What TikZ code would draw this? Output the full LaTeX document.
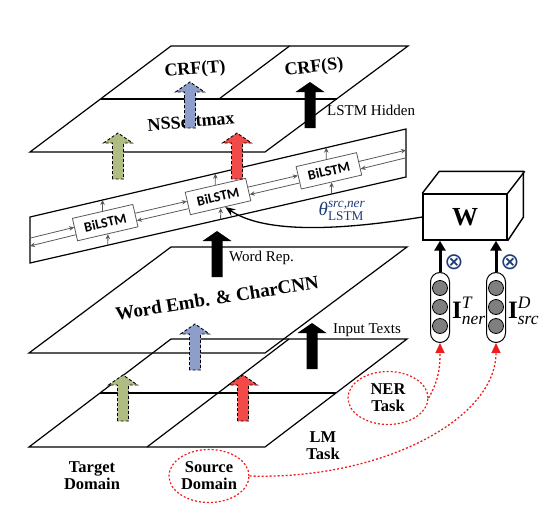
\documentclass[tikz,border=0pt]{standalone}
\usepackage{amsmath}
\usepackage{fontspec}
\setmainfont{Liberation Serif}
\newfontfamily\cellfont{Carlito}
\newfontfamily\glyphfont{DejaVu Sans}
\usetikzlibrary{arrows.meta, positioning, calc, shapes.geometric}
\definecolor{Olive}{HTML}{AFBD82}
\definecolor{Periwinkle}{HTML}{8E9ECB}
\definecolor{Coral}{HTML}{F24A48}
\definecolor{Navy}{HTML}{1F3C78}
\definecolor{DotRed}{HTML}{EE1C1C}
\definecolor{Grid}{HTML}{595959}
\definecolor{Ball}{HTML}{7F7F7F}

\begin{document}
\begin{tikzpicture}[
    x=1pt, y=-1pt,
    layer/.style={draw, line width=1.2pt, line join=miter},
    title/.style={font=\fontsize{18}{20}\selectfont\bfseries, inner sep=0pt},
    note/.style={font=\fontsize{15}{17}\selectfont, inner sep=0pt, anchor=west},
    caption/.style={font=\fontsize{16.5}{17}\selectfont\bfseries, align=center, inner sep=0pt},
    cell/.style={draw=Grid, fill=white, line width=0.8pt, minimum width=62pt, minimum height=23pt,
                 inner sep=0pt, rotate=13, font=\cellfont\fontsize{14}{14}\selectfont\bfseries},
    gridarr/.style={draw=Grid, line width=0.8pt, -{Stealth[length=5pt, width=4.5pt]}},
    shared/.style={draw, dash pattern=on 3pt off 2pt, line width=0.9pt},
    solidup/.style={fill=black},
    wface/.style={draw, line width=1.4pt, minimum width=84pt, minimum height=46pt,
                  font=\fontsize{26}{26}\selectfont\bfseries},
    boxline/.style={line width=1.4pt, line join=miter},
    capsule/.style={draw, line width=1pt, rounded corners=9.5pt, minimum width=19pt,
                    minimum height=70pt, inner sep=0pt},
    ball/.style={circle, draw, fill=Ball, line width=0.8pt, minimum size=15pt, inner sep=0pt},
    feed/.style={line width=3pt, -{Triangle[length=10pt, width=11pt]}},
    gate/.style={text=Navy, inner sep=0pt, font=\glyphfont\fontsize{23}{23}\selectfont},
    ilabel/.style={inner sep=0pt, anchor=base west, font=\fontsize{25}{25}\selectfont},
    task/.style={ellipse, draw=DotRed, dash pattern=on 2pt off 2pt, line width=1.2pt,
                 minimum width=80pt, minimum height=53pt, inner sep=0pt, align=center,
                 font=\fontsize{16.5}{17}\selectfont\bfseries},
    cue/.style={draw=DotRed, dash pattern=on 2pt off 2pt, line width=1.3pt,
                -{Triangle[length=10pt, width=9pt]}},
    tie/.style={line width=1.3pt, -{Stealth[length=10pt, width=8pt]}},
    blockarr/.pic={\path[pic actions] (-5.5,0) -- (-5.5,-36) -- (-14.5,-36) -- (0,-46)
                   -- (14.5,-36) -- (5.5,-36) -- (5.5,0) -- cycle;}
  ]
  \useasboundingbox (0,0) rectangle (544,509);

  % output layer: CRF(T) / CRF(S) over NSSoftmax
  \coordinate (tBL) at (30,152);
  \coordinate (tBR) at (265,152);
  \coordinate (tTR) at (408,46);
  \coordinate (tTL) at (171,46);
  \draw[layer] (tBL) -- (tBR) -- (tTR) -- (tTL) -- cycle;
  \draw[layer] ($(tBL)!0.5!(tTL)$) -- ($(tBR)!0.5!(tTR)$);
  \draw[layer] ($(tTL)!0.5!(tTR)$) -- ($(tBL)!0.5!(tTR)$);
  \node[title, rotate=5] (crft) at (195,70) {CRF(T)};
  \node[title, rotate=7] (crfs) at (314,68) {CRF(S)};
  \node[title, rotate=5] (nss) at (191,121) {NSSoftmax};

  % BiLSTM band
  \coordinate (bTL) at (30,217);
  \coordinate (bTR) at (406,129);
  \coordinate (bBR) at (406,177);
  \coordinate (bBL) at (30,263);
  \coordinate (bML) at (30,240);
  \coordinate (bMR) at (406,153);
  \draw[layer] (bTL) -- (bTR) -- (bBR) -- (bBL) -- cycle;
  \node[cell] (lstm1) at ($(bML)!0.2!(bMR)$) {BiLSTM};
  \node[cell] (lstm2) at ($(bML)!0.5!(bMR)$) {BiLSTM};
  \node[cell] (lstm3) at ($(bML)!0.795!(bMR)$) {BiLSTM};

  \draw[gridarr] ($(bTL)!0.46!(bBL)$) -- ($(lstm1.north west)!0.4!(lstm1.south west)$);
  \draw[gridarr] ($(lstm1.north west)!0.72!(lstm1.south west)$) -- ($(bTL)!0.63!(bBL)$);
  \foreach \a/\b in {1/2, 2/3} {
    \draw[gridarr] ($(lstm\a.north east)!0.4!(lstm\a.south east)$) -- ($(lstm\b.north west)!0.4!(lstm\b.south west)$);
    \draw[gridarr] ($(lstm\b.north west)!0.72!(lstm\b.south west)$) -- ($(lstm\a.north east)!0.72!(lstm\a.south east)$);
  }
  \draw[gridarr] ($(lstm3.north east)!0.4!(lstm3.south east)$) -- ($(bTR)!0.44!(bBR)$);
  \draw[gridarr] ($(bTR)!0.6!(bBR)$) -- ($(lstm3.north east)!0.72!(lstm3.south east)$);
  \foreach \k/\up/\dn in {1/0.193/0.207, 2/0.493/0.507, 3/0.788/0.802} {
    \draw[gridarr] (lstm\k.north) -- ($(bTL)!\up!(bTR)$);
    \draw[gridarr] ($(bBL)!\dn!(bBR)$) -- (lstm\k.south);
  }

  % embedding layer
  \coordinate (mBL) at (29,353);
  \coordinate (mBR) at (265,353);
  \coordinate (mTR) at (407,247);
  \coordinate (mTL) at (171,247);
  \draw[layer] (mBL) -- (mBR) -- (mTR) -- (mTL) -- cycle;
  \node[title, rotate=9, font=\fontsize{19}{20}\selectfont\bfseries] (emb) at (217,298) {Word Emb. \& CharCNN};

  % input layer: target / source domain, LM / NER task
  \coordinate (lBL) at (29,447);
  \coordinate (lBR) at (265,447);
  \coordinate (lTR) at (407,339);
  \coordinate (lTL) at (171,339);
  \draw[layer] (lBL) -- (lBR) -- (lTR) -- (lTL) -- cycle;
  \draw[layer] ($(lBL)!0.5!(lTL)$) -- ($(lBR)!0.5!(lTR)$);
  \draw[layer] ($(lBL)!0.5!(lBR)$) -- ($(lTL)!0.5!(lTR)$);

  % block arrows
  \pic[shared, fill=Olive] at (118,179) {blockarr};
  \pic[shared, fill=Coral] at (237,179) {blockarr};
  \pic[shared, fill=Periwinkle] at (190,128) {blockarr};
  \pic[solidup] at (310,128) {blockarr};
  \pic[solidup] at (217,277) {blockarr};
  \pic[shared, fill=Periwinkle] at (195,370) {blockarr};
  \pic[shared, fill=Olive] at (123,421) {blockarr};
  \pic[shared, fill=Coral] at (243,421) {blockarr};
  \pic[solidup] at (312,369) {blockarr};

  \node[note] (hid) at (327,110) {LSTM Hidden};
  \node[note] (rep) at (229,258) {Word Rep.};
  \node[note] (inp) at (333,330) {Input Texts};

  % task/domain weights
  \node[wface] (wbox) at (465,217) {W};
  \draw[boxline] (wbox.north west) -- ++(17,-22) -- ++(84,0) -- ++(0,46) -- (wbox.south east);
  \draw[boxline] (wbox.north east) -- ++(17,-22);

  \node[capsule] (cap1) at (440,307.5) {};
  \node[capsule] (cap2) at (496,307.5) {};
  \foreach \k/\yy in {1/288, 2/307, 3/326} {
    \node[ball] (ner\k) at (440,\yy) {};
    \node[ball] (src\k) at (496,\yy) {};
  }
  \draw[feed] (cap1.north) -- (cap1.north |- wbox.south);
  \draw[feed] (cap2.north) -- (cap2.north |- wbox.south);
  \node[gate] (g1) at (454,262) {⊗};
  \node[gate] (g2) at (510,262) {⊗};
  \node[ilabel] (iner) at (452,318) {$\textbf{I}^{\textit{T}}_{\textit{ner}}$};
  \node[ilabel] (isrc) at (508,318) {$\textbf{I}^{\textit{D}}_{\textit{src}}$};

  \draw[tie] (wbox.west) .. controls (330,232) and (262,232) .. ($(lstm2.south)!0.15!(lstm2.south east)$);
  \node[text=Navy, inner sep=0pt, font=\fontsize{19}{19}\selectfont] (theta) at (342,211) {$\textit{θ}^{\textit{src,ner}}_{\text{LSTM}}$};

  % captions
  \node[caption] (tgt) at (92,476) {Target\\Domain};
  \node[caption] (lm) at (323,446) {LM\\Task};
  \node[task] (ner) at (388,398) {NER\\Task};
  \node[task] (srcdom) at (209,476) {Source\\Domain};
  \draw[cue] (ner.east) to[out=60, in=-90] (cap1.south);
  \draw[cue] (srcdom.east) .. controls (380,480) and (496,420) .. (cap2.south);
\end{tikzpicture}
\end{document}
